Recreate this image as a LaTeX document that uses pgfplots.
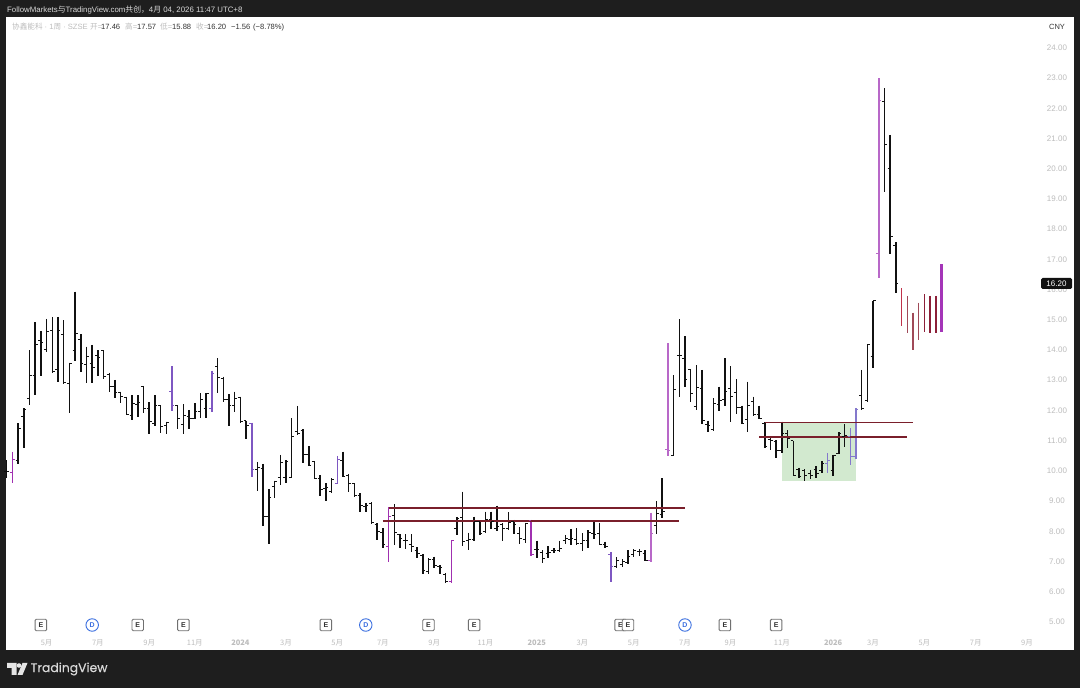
\documentclass[border=0pt]{standalone}
\usepackage{pgfplots}
\usepackage{pgfplotstable}
\usepackage{fontspec}
\pgfplotsset{compat=1.18}
\setmainfont{Liberation Sans}
\newfontfamily\cjk{Noto Sans CJK SC}
\newfontfamily\tvfont[FakeBold=0.35]{Poppins}
\definecolor{panel}{HTML}{1E1E1E}
\definecolor{barblack}{HTML}{111111}
\definecolor{pmag}{HTML}{A030B0}
\definecolor{pvio}{HTML}{7E57C2}
\definecolor{porc}{HTML}{B868C8}
\definecolor{pper}{HTML}{8478CC}
\definecolor{rone}{HTML}{C0324A}
\definecolor{rtwo}{HTML}{A04A58}
\definecolor{rthr}{HTML}{8C1F38}
\definecolor{pthk}{HTML}{A435B8}
\definecolor{maroon}{HTML}{7A1F2B}
\definecolor{boxgreen}{HTML}{D2E9CF}
\definecolor{axgrey}{HTML}{BDBDBD}
\definecolor{txtdark}{HTML}{333333}
\definecolor{mkgrey}{HTML}{707070}
\definecolor{mkblue}{HTML}{3B6FE0}

\pgfdeclareplotmark{ohlcopen}{\pgfpathmoveto{\pgfqpoint{-2.5pt}{0pt}}\pgfpathlineto{\pgfqpoint{0pt}{0pt}}\pgfusepathqstroke}
\pgfdeclareplotmark{ohlcclose}{\pgfpathmoveto{\pgfqpoint{0pt}{0pt}}\pgfpathlineto{\pgfqpoint{2.5pt}{0pt}}\pgfusepathqstroke}
\pgfdeclareplotmark{nil}{}

\newcommand{\vbars}[3]{%
\addplot[forget plot, only marks, mark=nil, error bars/.cd, y dir=minus, y explicit, error mark=none, error bar style={draw=#2, line width=#3}]
  table[x=n, y=h, y error minus expr=\thisrow{h}-\thisrow{l}] {#1};}
\newcommand{\ohlc}[3]{%
\vbars{#1}{#2}{#3}
\addplot[forget plot, only marks, mark=ohlcopen, mark options={draw=#2, line width=1pt}] table[x=n, y=o] {#1};
\addplot[forget plot, only marks, mark=ohlcclose, mark options={draw=#2, line width=1pt}] table[x=n, y=c] {#1};}

\pgfplotstableread{
n o h l c
0 9.98 10.36 9.76 9.97
2 10.36 11.58 10.23 11.41
3 11.80 12.07 10.75 12.04
4 12.40 14.00 12.18 13.14
5 13.14 14.92 12.51 14.19
6 14.30 14.63 13.14 14.24
7 14.03 15.03 13.95 14.61
8 14.66 15.10 13.25 13.28
9 13.34 15.10 12.95 14.64
10 14.50 14.99 12.88 12.92
11 12.90 13.58 11.93 13.56
12 13.98 15.93 13.64 14.55
13 14.35 14.52 13.28 13.54
14 13.51 14.11 12.92 13.78
15 13.56 14.17 12.90 13.43
16 13.81 14.00 13.14 13.74
17 13.98 13.98 13.03 13.12
18 13.20 13.25 12.60 12.79
19 12.79 13.01 12.40 12.60
20 12.59 12.62 12.24 12.46
21 12.44 12.46 11.85 11.85
22 11.82 12.51 11.68 12.24
23 12.21 12.51 11.77 12.26
24 12.79 12.81 11.91 12.07
25 12.07 12.27 11.21 11.65
26 11.57 12.51 11.50 12.15
27 12.15 12.15 11.27 11.46
28 11.50 11.63 11.21 11.60
30 12.15 12.16 11.38 11.74
31 11.52 12.20 11.21 11.83
32 11.79 12.02 11.39 11.74
33 11.74 12.24 11.72 11.98
34 11.98 12.57 11.76 12.37
35 12.07 12.57 11.76 12.55
37 13.45 13.72 12.59 13.08
38 13.06 13.12 12.29 12.35
39 12.35 12.54 11.49 12.15
40 12.15 12.62 11.96 12.40
41 12.44 12.46 11.60 11.63
42 11.66 11.66 11.04 11.50
44 10.03 10.30 9.34 10.11
45 10.08 10.23 8.19 8.49
46 8.48 9.39 7.57 9.11
47 9.48 9.68 9.11 9.64
48 9.78 10.53 9.53 10.27
49 9.78 10.36 9.59 10.30
50 9.79 11.74 9.75 11.15
51 11.30 12.15 11.19 11.24
52 11.35 11.38 10.27 10.53
53 10.53 10.82 10.16 10.19
54 10.30 10.33 9.72 9.75
55 9.75 9.86 9.18 9.37
56 9.42 9.59 9.01 9.44
57 9.31 9.75 9.26 9.70
59 10.36 10.64 9.79 9.81
60 9.86 9.90 9.31 9.59
61 9.57 9.59 9.15 9.17
62 9.17 9.26 8.65 8.87
63 8.82 8.93 8.63 8.87
64 8.93 8.96 8.24 8.29
65 8.24 8.26 7.71 7.99
66 7.97 8.10 7.46 7.55
68 8.51 8.90 7.55 7.95
69 7.88 7.91 7.44 7.75
70 7.71 7.91 7.40 7.68
71 7.55 7.90 7.30 7.49
72 7.35 7.47 7.13 7.27
73 7.21 7.25 6.58 6.72
74 6.66 7.11 6.58 7.08
75 7.07 7.16 6.80 6.88
76 6.83 6.88 6.58 6.81
77 6.58 6.61 6.30 6.33
79 8.10 8.48 7.88 8.43
80 8.45 9.31 7.52 7.65
81 7.69 7.96 7.38 7.74
82 7.74 8.49 7.68 8.32
83 8.32 8.35 7.88 7.93
84 7.99 8.65 7.93 8.38
85 8.38 8.65 8.07 8.32
86 8.10 8.85 8.01 8.15
87 8.21 8.27 7.69 8.10
88 8.10 8.63 8.04 8.29
89 8.32 8.38 7.91 8.21
90 7.93 8.13 7.57 7.75
91 7.74 8.29 7.63 8.27
93 7.40 7.69 7.11 7.40
94 7.31 7.38 6.94 7.11
95 7.27 7.51 7.11 7.29
96 7.35 7.44 7.29 7.38
97 7.38 7.69 7.31 7.44
98 7.71 7.88 7.58 7.75
99 7.74 8.08 7.55 7.77
100 7.74 8.10 7.55 7.60
101 7.60 7.93 7.35 7.69
102 7.69 8.04 7.44 7.96
103 7.93 8.32 7.75 7.88
104 7.93 8.29 7.58 7.58
105 7.58 7.66 7.44 7.51
107 6.83 7.14 6.78 7.05
108 6.89 7.07 6.83 7.00
109 6.96 7.38 6.91 7.18
110 7.22 7.41 7.14 7.36
111 7.33 7.41 7.18 7.33
112 7.27 7.38 7.02 7.05
114 8.19 9.00 7.90 8.60
115 8.57 9.75 8.45 8.65
117 10.52 13.17 10.50 12.68
118 13.83 15.02 12.43 13.83
119 13.72 14.46 12.79 13.01
120 13.34 13.37 12.27 12.57
121 12.12 13.50 12.01 12.77
122 12.71 13.34 11.55 11.68
123 11.52 11.66 11.28 11.49
124 11.37 12.40 11.33 12.23
125 12.21 12.79 11.98 12.32
126 12.35 13.72 12.15 12.62
127 12.73 13.47 11.63 12.46
128 12.59 13.03 11.87 12.10
129 12.10 12.16 11.54 11.57
130 11.71 12.95 11.28 12.15
131 12.29 12.46 11.82 11.85
132 11.85 12.16 11.71 11.74
133 11.57 11.61 10.77 10.80
134 11.04 11.08 10.69 11.02
135 10.97 11.02 10.44 10.69
136 10.69 11.63 10.58 11.24
137 11.24 11.35 10.77 11.08
138 11.00 11.00 9.83 9.84
139 10.03 10.11 9.75 9.83
140 10.00 10.05 9.67 9.86
141 9.92 10.03 9.72 9.86
142 10.05 10.16 9.78 9.92
143 10.00 10.33 9.94 10.25
145 10.00 10.53 9.84 10.50
146 10.58 11.28 10.56 11.24
147 11.15 11.54 10.78 11.16
150 12.51 13.34 12.02 12.05
151 12.32 14.17 12.29 14.17
152 13.80 15.63 13.39 15.63
154 22.24 22.66 19.22 20.81
155 19.99 21.12 17.18 17.77
156 17.46 17.57 15.88 16.20
}\barsblack

\pgfplotstableread{
n o h l c
1 9.94 10.64 9.61 10.38
67 7.49 8.79 6.99 8.48
78 6.35 7.71 6.30 7.69
92 8.37 8.38 7.18 7.22
}\barsmag

\pgfplotstableread{
n o h l c
29 12.64 13.47 11.98 12.18
36 12.07 13.32 11.94 13.23
43 11.58 11.60 9.79 10.03
58 9.59 10.50 9.57 10.38
106 7.22 7.30 6.33 6.85
}\barsvio

\pgfplotstableread{
n o h l c
113 7.03 8.62 7.00 7.93
116 10.71 14.22 10.50 10.69
153 17.18 22.99 16.37 22.27
}\barsorc

\pgfplotstableread{
n o h l c
144 10.25 10.58 9.92 10.36
148 11.15 11.41 10.19 10.49
149 10.49 12.07 10.39 12.03
}\barsper

\pgfplotstableread{
n h l
157 16.04 14.79
}\projone
\pgfplotstableread{
n h l
158 15.79 14.55
159 15.24 14.00
160 15.57 14.33
}\projtwo
\pgfplotstableread{
n h l
161 15.85 14.61
162 15.79 14.55
163 15.79 14.55
}\projthr
\pgfplotstableread{
n h l
164 16.83 14.61
}\projthk

\begin{document}
\begin{tikzpicture}
\fill[panel] (-6pt,-38pt) rectangle (1074pt,650pt);
\begin{axis}[
  scale only axis, width=1068pt, height=633pt,
  xmin=-0.123, xmax=187.25, ymin=4.073, ymax=25.02,
  axis background/.style={fill=white},
  axis line style={draw=none},
  tick style={draw=none},
  ytick={5,6,...,24},
  yticklabel pos=right,
  yticklabel style={font=\fontsize{8}{9}\selectfont, text=axgrey, anchor=center, xshift=-17pt, /pgf/number format/fixed, /pgf/number format/fixed zerofill, /pgf/number format/precision=2, /pgf/number format/assume math mode=true},
  xtick={7,16,25,33,41,49,58,66,75,84,93,101,110,119,127,136,145,152,161,170,179},
  xticklabels={5月,7月,9月,11月,\textbf{2024},3月,5月,7月,9月,11月,\textbf{2025},3月,5月,7月,9月,11月,\textbf{2026},3月,5月,7月,9月},
  xticklabel style={font=\cjk\fontsize{7.5}{9}\selectfont, text=axgrey, anchor=center, yshift=7.3pt},
]
% accumulation box
\addplot[forget plot, fill=boxgreen, draw=none] coordinates {(136,9.67) (149,9.67) (149,11.61) (136,11.61)} --cycle;
% bars
\ohlc{\barsblack}{barblack}{1.5pt}
\ohlc{\barsmag}{pmag}{1.5pt}
\ohlc{\barsvio}{pvio}{1.5pt}
\ohlc{\barsorc}{porc}{1.5pt}
\ohlc{\barsper}{pper}{1.5pt}
\vbars{\projone}{rone}{1.5pt}
\vbars{\projtwo}{rtwo}{1.5pt}
\vbars{\projthr}{rthr}{1.5pt}
\vbars{\projthk}{pthk}{2.6pt}
% horizontal levels
\addplot[forget plot, maroon, line width=1.2pt] coordinates {(67,8.77) (119,8.77)};
\addplot[forget plot, maroon, line width=1.2pt] coordinates {(66,8.34) (118,8.34)};
\addplot[forget plot, maroon, line width=1.2pt] coordinates {(133,11.61) (159,11.61)};
\addplot[forget plot, maroon, line width=1.2pt] coordinates {(132,11.12) (158,11.12)};
% event markers
\addplot[forget plot, only marks, mark=nil, nodes near coords={\textbf{E}},
  every node near coord/.append style={anchor=center, draw=mkgrey, fill=white, rounded corners=1.2pt, line width=0.9pt, minimum size=11.5pt, inner sep=0pt, font=\fontsize{7}{8}\selectfont, text=txtdark}]
  coordinates {(6,4.90) (23,4.90) (31,4.90) (56,4.90) (74,4.90) (82,4.90) (107.7,4.90) (109,4.90) (126,4.90) (135,4.90)};
\addplot[forget plot, only marks, mark=nil, nodes near coords={\textbf{D}},
  every node near coord/.append style={anchor=center, draw=mkblue, fill=white, circle, line width=0.9pt, minimum size=12.5pt, inner sep=0pt, font=\fontsize{7}{8}\selectfont, text=mkblue}]
  coordinates {(15,4.90) (63,4.90) (119,4.90)};
\end{axis}
% header
\node[anchor=west, inner sep=0pt, text=white!85!black, font=\fontsize{7.85}{9}\selectfont] at (1pt,640pt)
  {FollowMarkets{\cjk 与}TradingView.com{\cjk 共创，}4{\cjk 月} 04, 2026 11:47 UTC+8};
\begin{scope}[every node/.style={anchor=base west, inner sep=0pt, font=\fontsize{7.6}{9}\selectfont}]
\node[text=axgrey] at (6pt,620.3pt) {{\cjk 协鑫能科} · 1{\cjk 周} · SZSE};
\node[text=axgrey] at (84pt,620.3pt) {{\cjk 开}=};
\node[text=txtdark] at (95pt,620.3pt) {17.46};
\node[text=axgrey] at (119pt,620.3pt) {{\cjk 高}=};
\node[text=txtdark] at (131pt,620.3pt) {17.57};
\node[text=axgrey] at (154pt,620.3pt) {{\cjk 低}=};
\node[text=txtdark] at (166pt,620.3pt) {15.88};
\node[text=axgrey] at (190pt,620.3pt) {{\cjk 收}=};
\node[text=txtdark] at (201pt,620.3pt) {16.20};
\node[text=txtdark] at (225pt,620.3pt) {−1.56};
\node[text=txtdark] at (247pt,620.3pt) {(−8.78\%)};
\end{scope}
\node[anchor=center, inner sep=0pt, text=txtdark, font=\fontsize{7.5}{9}\selectfont] at (1051pt,623pt) {CNY};
% last price tag
\node[anchor=center, fill=barblack, rounded corners=1.5pt, text=white, font=\fontsize{8}{9}\selectfont, minimum width=31pt, minimum height=11pt, inner sep=0pt] at (1050.5pt,366.5pt) {16.20};
% logo
\fill[white!90!black] (1pt,-13pt) -- (10.5pt,-13pt) -- (10.5pt,-25pt) -- (5.5pt,-25pt) -- (5.5pt,-18pt) -- (1pt,-18pt) -- cycle;
\fill[white!90!black] (13pt,-15.5pt) circle (2.3pt);
\fill[white!90!black] (16.5pt,-13pt) -- (21.5pt,-13pt) -- (16.5pt,-25pt) -- (11.5pt,-25pt) -- cycle;
\node[anchor=west, inner sep=0pt, text=white!85!black, font=\tvfont\fontsize{12.4}{15}\selectfont] at (24.5pt,-19pt) {TradingView};
\end{tikzpicture}
\end{document}
